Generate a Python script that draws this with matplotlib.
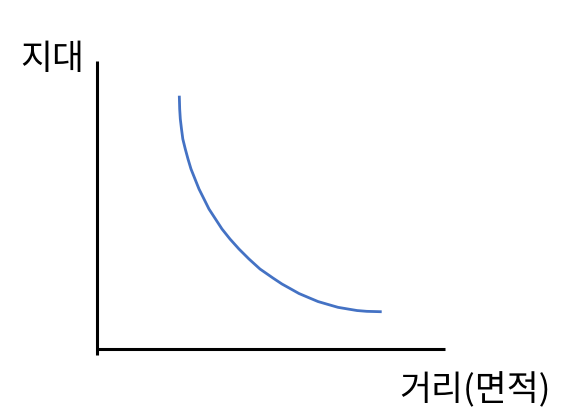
import matplotlib
matplotlib.use('Agg')
import matplotlib.pyplot as plt

plt.rcParams['font.family'] = ['Noto Sans CJK KR', 'DejaVu Sans']

# curve points (arbitrary units, axes 0..10)
dist = [2.365, 2.376, 2.394, 2.428, 2.466, 2.537, 2.615, 2.701, 2.816, 2.931,
        3.075, 3.218, 3.405, 3.592, 3.822, 4.080, 4.368, 4.684, 5.057, 5.316,
        5.575, 5.805, 6.063, 6.351, 6.667, 6.925, 7.213, 7.471, 7.750, 8.181]
rent = [8.795, 8.333, 7.986, 7.639, 7.292, 6.944, 6.597, 6.250, 5.903, 5.556,
        5.208, 4.861, 4.514, 4.167, 3.819, 3.472, 3.125, 2.778, 2.465, 2.257,
        2.083, 1.927, 1.795, 1.649, 1.538, 1.448, 1.389, 1.337, 1.309, 1.295]

y_label = '지대'
x_label = '거리(면적)'

W, H = 583, 414
fig = plt.figure(figsize=(W / 100, H / 100), dpi=100)
ax = fig.add_axes([97 / W, (H - 355.8) / H, (445 - 97) / W, (355.8 - 62) / H])

ax.plot(dist, rent, color='#4472C4', linewidth=2.0,
        solid_capstyle='butt', solid_joinstyle='round')

ax.set_xlim(0, 10)
ax.set_ylim(-0.2, 10)
ax.spines['top'].set_visible(False)
ax.spines['right'].set_visible(False)
ax.spines['left'].set_linewidth(2.2)
ax.spines['bottom'].set_linewidth(2.2)
ax.spines['bottom'].set_position(('data', 0))
ax.spines['left'].set_capstyle('butt')
ax.spines['bottom'].set_capstyle('butt')
ax.set_xticks([])
ax.set_yticks([])
ax.patch.set_visible(False)

fig.text(20 / W, 1 - 59 / H, y_label, fontsize=25, ha='left', va='center')
fig.text(399 / W, 1 - 391 / H, x_label, fontsize=25, ha='left', va='center')

fig.savefig('out.png', dpi=100)
